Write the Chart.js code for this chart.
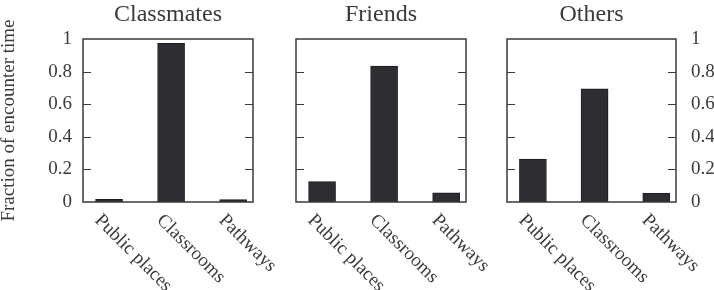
<!DOCTYPE html>
<html>
<head>
<meta charset="utf-8">
<script src="https://cdn.jsdelivr.net/npm/chart.js@4.4.1/dist/chart.umd.min.js"></script>
<style>
  html, body { margin: 0; padding: 0; background: #fff; }
  #wrap { position: relative; width: 714px; height: 290px; overflow: hidden; }
  #wrap canvas { position: absolute; left: 0; top: 0; }
</style>
</head>
<body>
<div id="wrap">
  <canvas id="c0" width="714" height="290"></canvas>
  <canvas id="c1" width="714" height="290"></canvas>
  <canvas id="c2" width="714" height="290"></canvas>
</div>
<script>
// values
const categories = ['Public places', 'Classrooms', 'Pathways'];
const panelTitles = ['Classmates', 'Friends', 'Others'];
const classmatesValues = [0.016, 0.973, 0.015];
const friendsValues = [0.125, 0.834, 0.057];
const othersValues = [0.264, 0.695, 0.053];
const yTicks = [0, 0.2, 0.4, 0.6, 0.8, 1];
const yTitle = 'Fraction of encounter time';

const serif = "'Liberation Serif', 'Times New Roman', serif";
const ink = '#3a3a3a';

// frame, inward ticks, title and the slanted category labels
const panelDecor = {
    id: 'panelDecor',
    afterDraw(chart, args, opts) {
        const ctx = chart.ctx;
        const a = chart.chartArea;
        const x = chart.scales.x;
        const y = chart.scales.y;
        ctx.save();
        ctx.strokeStyle = ink;
        ctx.lineWidth = 1.5;
        ctx.strokeRect(a.left, a.top, a.right - a.left, a.bottom - a.top);

        ctx.lineWidth = 1.2;
        ctx.beginPath();
        yTicks.slice(1, -1).forEach(v => {
            const py = Math.round(y.getPixelForValue(v)) + 0.5;
            ctx.moveTo(a.left, py); ctx.lineTo(a.left + 8, py);
            ctx.moveTo(a.right, py); ctx.lineTo(a.right - 8, py);
        });
        ctx.stroke();

        ctx.fillStyle = ink;
        ctx.font = '24px ' + serif;
        ctx.textAlign = 'center';
        ctx.textBaseline = 'alphabetic';
        ctx.fillText(opts.title, (a.left + a.right) / 2, 21);

        ctx.font = '19px ' + serif;
        ctx.textAlign = 'left';
        categories.forEach((c, i) => {
            ctx.save();
            ctx.translate(x.getPixelForValue(i) - 15, a.bottom + 19);
            ctx.rotate(Math.PI / 4);
            ctx.fillText(c, 0, 0);
            ctx.restore();
        });
        ctx.restore();
    }
};

function makePanel(id, values, title, pad, yAxis) {
    new Chart(document.getElementById(id).getContext('2d'), {
        type: 'bar',
        data: {
            datasets: [{
                data: values.map((v, i) => ({ x: i, y: v })),
                backgroundColor: '#2d2d32',
                borderColor: '#1c1c1c',
                borderWidth: 1,
                barThickness: 27
            }]
        },
        options: {
            responsive: false,
            animation: false,
            events: [],
            layout: { padding: pad },
            plugins: {
                legend: { display: false },
                tooltip: { enabled: false },
                panelDecor: { title: title }
            },
            scales: {
                x: {
                    type: 'linear',
                    offset: false,
                    min: -0.42,
                    max: 2.32,
                    ticks: { display: false },
                    grid: { display: false, drawTicks: false, offset: false },
                    border: { display: false },
                    afterFit: s => { s.height = 88; }
                },
                y: yAxis
            }
        },
        plugins: [panelDecor]
    });
}

function yScale(extra) {
    return Object.assign({
        min: 0,
        max: 1,
        afterBuildTicks: s => { s.ticks = yTicks.map(v => ({ value: v })); },
        ticks: {
            color: ink,
            font: { family: serif, size: 19 },
            callback: v => String(v)
        },
        grid: { display: false, drawTicks: false },
        border: { display: false }
    }, extra);
}

makePanel('c0', classmatesValues, panelTitles[0],
    { left: 0, right: 714 - 253, top: 39, bottom: 0 },
    yScale({
        position: 'left',
        ticks: { color: ink, font: { family: serif, size: 19 }, padding: 11, callback: v => String(v) },
        title: { display: true, text: yTitle, color: ink, font: { family: serif, size: 19 }, padding: { top: -2, bottom: 0 } },
        afterFit: s => { s.width = 83; }
    }));

makePanel('c1', friendsValues, panelTitles[1],
    { left: 296, right: 714 - 466, top: 39, bottom: 0 },
    yScale({ display: false }));

makePanel('c2', othersValues, panelTitles[2],
    { left: 507, right: 0, top: 39, bottom: 0 },
    yScale({
        position: 'right',
        ticks: { color: ink, font: { family: serif, size: 19 }, padding: 15, callback: v => String(v) },
        afterFit: s => { s.width = 714 - 676; }
    }));
</script>
</body>
</html>
